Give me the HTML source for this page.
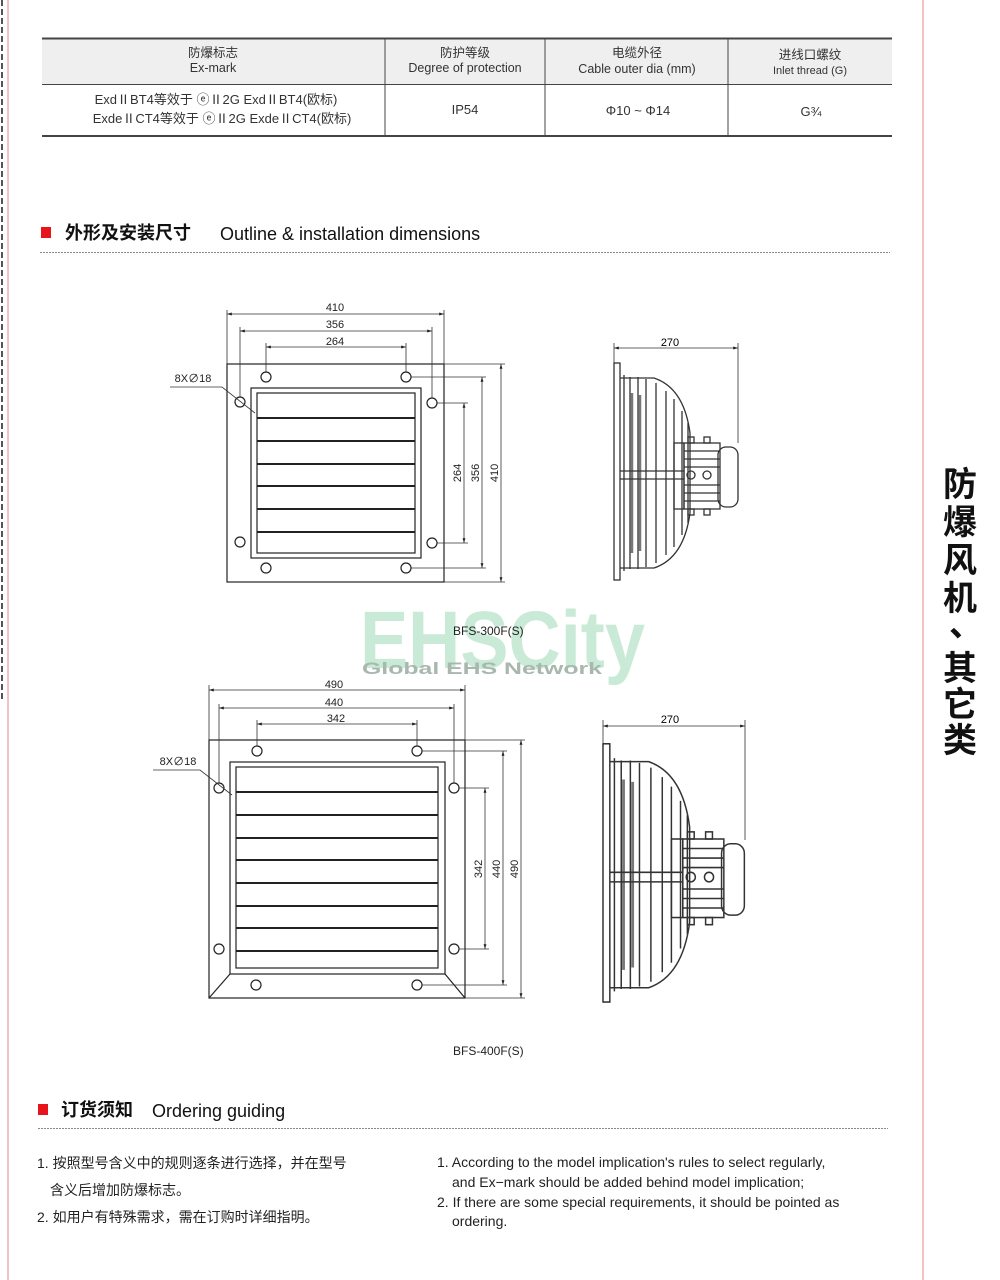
<!DOCTYPE html>
<html><head><meta charset="utf-8"><style>
body{margin:0;background:#fff;}
#p{position:relative;width:1000px;height:1280px;overflow:hidden;background:#fff;font-family:"Liberation Sans","Noto Sans CJK SC",sans-serif;color:#222;}
</style></head><body><div id="p">
<svg width="1000" height="1280" style="position:absolute;left:0;top:0" font-family="Liberation Sans, Noto Sans CJK SC, sans-serif">
<defs>
<marker id="a" viewBox="0 0 10 10" refX="10" refY="5" markerWidth="6" markerHeight="6" orient="auto-start-reverse"><path d="M0,2 L10,5 L0,8z" fill="#222"/></marker>
<g id="side">
 <rect x="0" y="20" width="6" height="217" fill="#fff" stroke="#222" stroke-width="1.2"/>
 <g fill="none" stroke="#333" stroke-width="1.3">
  <path d="M6,35 H40 Q70,45 76,90 V170 Q70,215 40,225 H6"/>
  <path d="M10,32 V228 M16,34 V226 M24,34 V226 M32,36 V224 M42,40 V220 M52,48 V212 M60,56 V204 M68,68 V192 M74,80 V180"/>
  <path d="M18,50 V210 M26,52 V208" stroke="#777" stroke-width="2.5"/>
  <path d="M6,128 H70 M6,136 H70"/>
  <rect x="60" y="100" width="10" height="66"/>
  <rect x="70" y="100" width="36" height="66"/>
  <path d="M70,108 H106 M70,116 H106 M70,124 H106 M70,142 H106 M70,150 H106 M70,158 H106"/>
  <rect x="104" y="104" width="20" height="60" rx="8"/>
  <rect x="74" y="94" width="6" height="6"/><rect x="90" y="94" width="6" height="6"/>
  <rect x="74" y="166" width="6" height="6"/><rect x="90" y="166" width="6" height="6"/>
  <circle cx="77" cy="132" r="4"/><circle cx="93" cy="132" r="4"/>
 </g>
</g>
</defs>
<line x1="8" y1="0" x2="8" y2="1280" stroke="#e58b88" stroke-width="1"/>
<line x1="923" y1="0" x2="923" y2="1280" stroke="#e58b88" stroke-width="1"/>
<line x1="2" y1="0" x2="2" y2="700" stroke="#555" stroke-width="2" stroke-dasharray="6 3"/>
<rect x="42" y="39" width="850" height="45" fill="#efefef"/>
<g stroke="#444" fill="none">
<line x1="42" y1="38.5" x2="892" y2="38.5" stroke-width="2"/>
<line x1="42" y1="84.5" x2="892" y2="84.5" stroke-width="1"/>
<line x1="42" y1="136" x2="892" y2="136" stroke-width="2"/>
<line x1="385" y1="39" x2="385" y2="136"/><line x1="545" y1="39" x2="545" y2="136"/><line x1="728" y1="39" x2="728" y2="136"/>
</g>
<g font-size="12.5" fill="#333" text-anchor="middle">
<text x="213" y="57">防爆标志</text><text x="213" y="72">Ex-mark</text>
<text x="465" y="57">防护等级</text><text x="465" y="72">Degree of protection</text>
<text x="637" y="57">电缆外径</text><text x="637" y="73">Cable outer dia (mm)</text>
<text x="810" y="59">进线口螺纹</text><text x="810" y="74" font-size="11">Inlet thread (G)</text>
<text x="216" y="104" font-size="13">ExdⅡBT4等效于 ⓔⅡ2G ExdⅡBT4(欧标)</text>
<text x="222" y="123" font-size="13">ExdeⅡCT4等效于 ⓔⅡ2G ExdeⅡCT4(欧标)</text>
<text x="465" y="114" font-size="13">IP54</text>
<text x="638" y="115" font-size="13">Φ10 ~ Φ14</text>
<text x="811" y="116" font-size="13">G¾</text>
</g>
<rect x="41" y="227" width="10" height="11" fill="#e8141b"/>
<text x="65" y="239" font-size="18" font-weight="bold" fill="#111">外形及安装尺寸</text>
<text x="220" y="240" font-size="18" fill="#111">Outline &amp; installation dimensions</text>
<line x1="40" y1="252.5" x2="890" y2="252.5" stroke="#888" stroke-dasharray="2 1"/>
<rect x="38" y="1104" width="10" height="11" fill="#e8141b"/>
<text x="61" y="1116" font-size="18" font-weight="bold" fill="#111">订货须知</text>
<text x="152" y="1117" font-size="18" fill="#111">Ordering guiding</text>
<line x1="38" y1="1128.5" x2="888" y2="1128.5" stroke="#888" stroke-dasharray="2 1"/>

<g fill="none" stroke="#222" stroke-width="1.2">
<rect x="227" y="364" width="217" height="218"/>
<rect x="251" y="388" width="170" height="170"/>
<rect x="257" y="393" width="158" height="160"/>
<path d="M257,418H415M257,441H415M257,464H415M257,486H415M257,509H415M257,532H415" stroke-width="2"/>
<circle cx="266" cy="377" r="5"/><circle cx="406" cy="377" r="5"/><circle cx="240" cy="402" r="5"/><circle cx="432" cy="403" r="5"/>
<circle cx="240" cy="542" r="5"/><circle cx="432" cy="543" r="5"/><circle cx="266" cy="568" r="5"/><circle cx="406" cy="568" r="5"/>
</g>
<g stroke="#333" stroke-width="0.8" fill="none">
<path d="M227,364V310M444,364V310M240,397V327M432,398V327M266,372V343M406,372V343"/>
<line x1="227" y1="314" x2="444" y2="314" marker-start="url(#a)" marker-end="url(#a)"/>
<line x1="240" y1="331" x2="432" y2="331" marker-start="url(#a)" marker-end="url(#a)"/>
<line x1="266" y1="347" x2="406" y2="347" marker-start="url(#a)" marker-end="url(#a)"/>
<path d="M444,364H505M411,377H486M437,403H468M437,543H468M411,568H486M444,582H505"/>
<line x1="464" y1="403" x2="464" y2="543" marker-start="url(#a)" marker-end="url(#a)"/>
<line x1="482" y1="377" x2="482" y2="568" marker-start="url(#a)" marker-end="url(#a)"/>
<line x1="501" y1="364" x2="501" y2="582" marker-start="url(#a)" marker-end="url(#a)"/>
<path d="M170,387H222L255,413"/>
</g>
<g font-size="11" fill="#222" text-anchor="middle">
<text x="335" y="311">410</text><text x="335" y="328">356</text><text x="335" y="345">264</text>
<text x="193" y="382">8X∅18</text>
<text transform="translate(461,473) rotate(-90)">264</text>
<text transform="translate(479,473) rotate(-90)">356</text>
<text transform="translate(498,473) rotate(-90)">410</text>
</g>
<g transform="translate(614,343)"><use href="#side"/>
<line x1="0" y1="5" x2="124" y2="5" stroke="#333" stroke-width="0.8" marker-start="url(#a)" marker-end="url(#a)"/>
<path d="M0,0V20M124,0V100" stroke="#333" stroke-width="0.8"/>
<text x="56" y="3" font-size="11" text-anchor="middle">270</text></g>

<g fill="none" stroke="#222" stroke-width="1.2">
<rect x="209" y="740" width="256" height="258"/>
<rect x="230" y="762" width="215" height="212"/>
<rect x="236" y="767" width="202" height="201"/>
<path d="M209,998L230,974M465,998L445,974"/>
<path d="M236,792H438M236,815H438M236,838H438M236,860H438M236,883H438M236,906H438M236,928H438M236,951H438" stroke-width="2"/>
<circle cx="257" cy="751" r="5"/><circle cx="417" cy="751" r="5"/><circle cx="219" cy="788" r="5"/><circle cx="454" cy="788" r="5"/>
<circle cx="219" cy="949" r="5"/><circle cx="454" cy="949" r="5"/><circle cx="256" cy="985" r="5"/><circle cx="417" cy="985" r="5"/>
</g>
<g stroke="#333" stroke-width="0.8" fill="none">
<path d="M209,740V685M465,740V685M219,783V704M454,783V704M257,746V720M417,746V720"/>
<line x1="209" y1="690" x2="465" y2="690" marker-start="url(#a)" marker-end="url(#a)"/>
<line x1="219" y1="708" x2="454" y2="708" marker-start="url(#a)" marker-end="url(#a)"/>
<line x1="257" y1="724" x2="417" y2="724" marker-start="url(#a)" marker-end="url(#a)"/>
<path d="M465,740H525M422,751H507M459,788H489M459,949H489M422,985H507M465,998H525"/>
<line x1="485" y1="788" x2="485" y2="949" marker-start="url(#a)" marker-end="url(#a)"/>
<line x1="503" y1="751" x2="503" y2="985" marker-start="url(#a)" marker-end="url(#a)"/>
<line x1="521" y1="740" x2="521" y2="998" marker-start="url(#a)" marker-end="url(#a)"/>
<path d="M153,770H200L232,795"/>
</g>
<g font-size="11" fill="#222" text-anchor="middle">
<text x="334" y="688">490</text><text x="334" y="706">440</text><text x="336" y="722">342</text>
<text x="178" y="765">8X∅18</text>
<text transform="translate(482,869) rotate(-90)">342</text>
<text transform="translate(500,869) rotate(-90)">440</text>
<text transform="translate(518,869) rotate(-90)">490</text>
</g>
<g transform="translate(603,720)"><g transform="scale(1.14,1.19)"><use href="#side"/></g>
<line x1="0" y1="6" x2="142" y2="6" stroke="#333" stroke-width="0.8" marker-start="url(#a)" marker-end="url(#a)"/>
<path d="M0,0V24M142,0V120" stroke="#333" stroke-width="0.8"/>
<text x="67" y="3" font-size="11" text-anchor="middle">270</text></g>

<text x="360" y="668" font-size="82" font-weight="bold" fill="#c8ead6" textLength="285" lengthAdjust="spacingAndGlyphs">EHSCity</text>
<text x="362" y="674" font-size="17" font-weight="bold" fill="#a9b8ae" textLength="240" lengthAdjust="spacingAndGlyphs">Global EHS Network</text>
<text x="453" y="635" font-size="12" fill="#222">BFS-300F(S)</text>
<text x="453" y="1055" font-size="12" fill="#222">BFS-400F(S)</text>

<g font-size="34" font-weight="bold" fill="#111" font-family="Noto Sans CJK SC, sans-serif" text-anchor="middle">
<text x="960" y="496">防</text><text x="960" y="534">爆</text><text x="960" y="572">风</text><text x="960" y="610">机</text><text x="966" y="636">、</text>
<text x="960" y="680">其</text><text x="960" y="716">它</text><text x="960" y="752">类</text>
</g>

<g font-size="14" fill="#222">
<text x="37" y="1168">1. 按照型号含义中的规则逐条进行选择，并在型号</text>
<text x="50" y="1195">含义后增加防爆标志。</text>
<text x="37" y="1222">2. 如用户有特殊需求，需在订购时详细指明。</text>
<text x="437" y="1167">1. According to the model implication's rules to select regularly,</text>
<text x="452" y="1187">and Ex−mark should be added behind model implication;</text>
<text x="437" y="1207">2. If there are some special requirements, it should be pointed as</text>
<text x="452" y="1226">ordering.</text>
</g>
</svg>
</div></body></html>
